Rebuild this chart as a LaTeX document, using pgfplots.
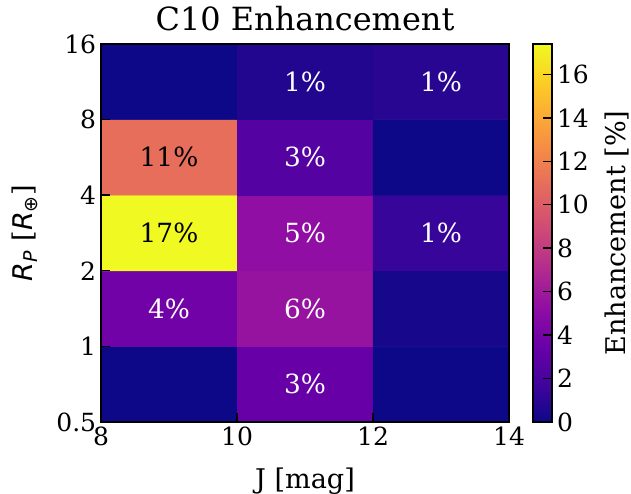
\documentclass[border=0pt]{standalone}
\usepackage{pgfplots}
\pgfplotsset{compat=1.18}
\usepackage{fontspec}
\setmainfont{DejaVu Serif}
\newfontfamily\symfont{DejaVu Sans}

% matplotlib plasma
\pgfplotsset{
  colormap={plasma}{
    rgb255=(13,8,135) rgb255=(65,4,157) rgb255=(106,0,168) rgb255=(143,13,164)
    rgb255=(177,42,144) rgb255=(204,71,120) rgb255=(225,100,98) rgb255=(242,132,75)
    rgb255=(252,166,54) rgb255=(252,206,37) rgb255=(240,249,33)
  }
}

\pgfplotstableread{
x  y       c
9  0.7071  0
11 0.7071  3.4
13 0.7071  0
9  1.4142  3.8
11 1.4142  5.6
13 1.4142  0.3
9  2.8284  17.4
11 2.8284  5.3
13 2.8284  1.4
9  5.6569  11.0
11 5.6569  2.6
13 5.6569  0
9  11.3137 0
11 11.3137 0.7
13 11.3137 0.9
}\cells

\begin{document}
\begin{tikzpicture}
\begin{axis}[
  width=293.8bp, height=272.2bp, scale only axis,
  font=\fontsize{18bp}{21bp}\selectfont,
  /pgf/number format/assume math mode=true,
  xmin=8, xmax=14, ymin=0.5, ymax=16,
  ymode=log, log basis y=2,
  xtick={8,10,12,14},
  ytick={0.5,1,2,4,8,16},
  yticklabels={0.5,1,2,4,8,16},
  xtick pos=bottom, ytick pos=left,
  tick align=inside,
  major tick length=6.5bp,
  minor tick num=0,
  axis line style={line width=1.2bp},
  every tick/.style={black, line width=1bp},
  axis on top,
  xlabel={J [mag]},
  xlabel style={font=\fontsize{19.5bp}{23bp}\selectfont,
    at={(axis description cs:0.5,-0.177)}, anchor=base},
  ylabel={{\symfont\itshape R}\textsubscript{\symfont\itshape P} [{\symfont\itshape R}\textsubscript{\symfont ⊕}]},
  ylabel style={font=\fontsize{19.5bp}{23bp}\selectfont,
    at={(axis description cs:-0.218,0.5)}, anchor=north, inner sep=0pt},
  title={C10 Enhancement},
  title style={font=\fontsize{23bp}{27bp}\selectfont},
  colormap name=plasma,
  point meta min=0, point meta max=17.4,
  colorbar,
  colorbar shift/.style={xshift=17.3bp},
  colorbar style={
    width=13.7bp,
    at={(parent axis.north east)}, anchor=north west,
    ytick={0,2,...,16},
    ytick pos=right, yticklabel pos=right,
    tick align=inside,
    major tick length=6.5bp,
    every tick/.style={black, line width=1bp},
    axis line style={line width=1.2bp},
    font=\fontsize{18bp}{21bp}\selectfont,
    /pgf/number format/assume math mode=true,
    ylabel={Enhancement [\%]},
    ylabel style={font=\fontsize{19.5bp}{23bp}\selectfont,
      at={(axis description cs:3.74,0.5)}, anchor=north, inner sep=0pt},
  },
]
\addplot[matrix plot*, mesh/cols=3, point meta=explicit] table[x=x, y=y, meta=c] {\cells};

% white labels
\addplot[only marks, mark=none, point meta=explicit symbolic,
  nodes near coords,
  every node near coord/.append style={anchor=center, text=white, font=\fontsize{19bp}{22bp}\selectfont}]
  coordinates {
  (11,0.7071)[3\%]
  (9,1.4142)[4\%]
  (11,1.4142)[6\%]
  (11,2.8284)[5\%]
  (13,2.8284)[1\%]
  (11,5.6569)[3\%]
  (11,11.3137)[1\%]
  (13,11.3137)[1\%]
  };
% black labels
\addplot[only marks, mark=none, point meta=explicit symbolic,
  nodes near coords,
  every node near coord/.append style={anchor=center, text=black, font=\fontsize{19bp}{22bp}\selectfont}]
  coordinates {
  (9,2.8284)[17\%]
  (9,5.6569)[11\%]
  };
\coordinate (sw) at (rel axis cs:0,0);
\end{axis}
\pgfresetboundingbox
\path[use as bounding box] ([shift={(-72.72bp,-51.84bp)}]sw) rectangle ++(454.32bp,355.68bp);
\end{tikzpicture}
\end{document}
